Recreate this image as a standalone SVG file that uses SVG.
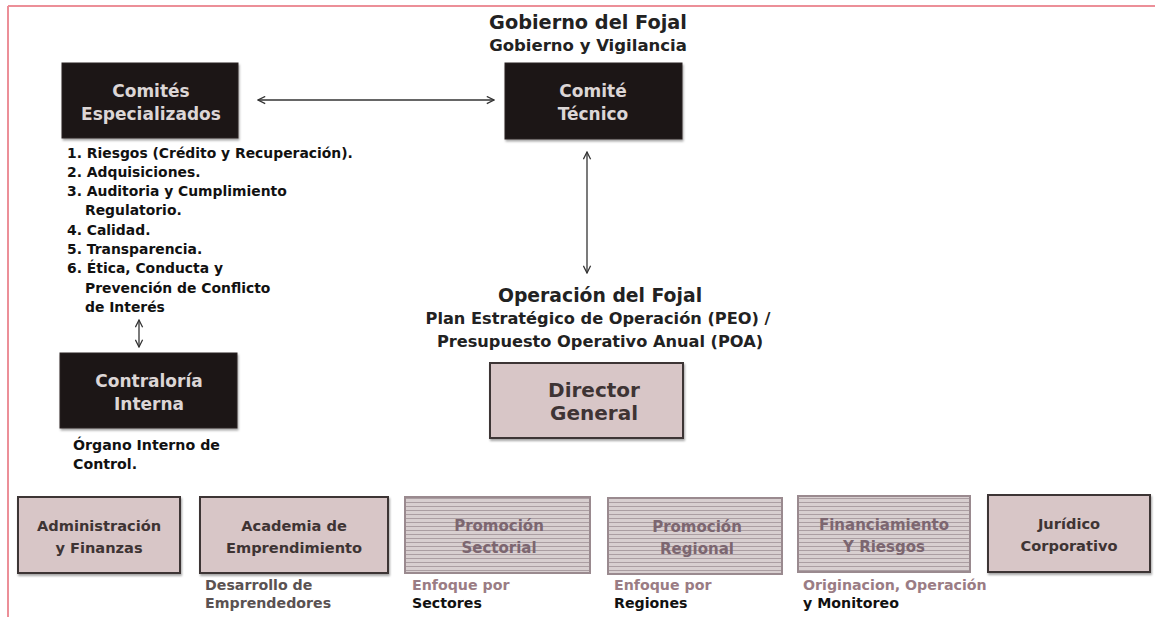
<svg xmlns="http://www.w3.org/2000/svg" width="1155" height="617" viewBox="0 0 1155 617">
<defs>
<style>
.t{font-family:"DejaVu Sans","Liberation Sans",sans-serif;font-weight:700}
.dark{fill:#1c1616;stroke:#2a2222;stroke-width:1}
.dt{fill:#dcd6d6;font-size:17px;text-anchor:middle}
.pink{fill:#d8c6c7;stroke:#3c3434;stroke-width:2}
.pt{fill:#3e3434;font-size:14.6px;text-anchor:middle}
.big{font-size:20px}
.tex{fill:url(#stripes);stroke:#9a8a8f;stroke-width:2}
.tt{fill:#7c6670;font-size:15px;text-anchor:middle}
.lst{fill:#111;font-size:13.9px}
.cap{font-size:14.2px}
.conn{stroke:#333;stroke-width:1.3;fill:none}
</style>
<pattern id="stripes" width="6" height="4" patternUnits="userSpaceOnUse">
<rect width="6" height="4" fill="#d8cfd0"/>
<rect y="2" width="6" height="1" fill="#ab9ea2"/>
</pattern>
<marker id="ah" viewBox="0 0 10 10" refX="9" refY="5" markerWidth="9" markerHeight="9" orient="auto-start-reverse" markerUnits="userSpaceOnUse">
<path d="M1,1 L9,5 L1,9" fill="none" stroke="#333" stroke-width="1.4"/>
</marker>
<filter id="sh" x="-5%" y="-5%" width="115%" height="120%">
<feDropShadow dx="1" dy="2" stdDeviation="1.2" flood-color="#000" flood-opacity="0.35"/>
</filter>
</defs>
<rect width="1155" height="617" fill="#fff"/>
<g id="frame">
<line x1="8" y1="6" x2="1155" y2="6" stroke="#ec8f98" stroke-width="2"/>
<line x1="8" y1="6" x2="8" y2="617" stroke="#ec8f98" stroke-width="2"/>
</g>

<g id="gobierno-title" class="t" fill="#222">
<text x="588" y="29" text-anchor="middle" font-size="19.3">Gobierno del Fojal</text>
<text x="588" y="51" text-anchor="middle" font-size="16.5">Gobierno y Vigilancia</text>
</g>

<g id="comites">
<rect class="dark" x="62" y="63" width="176" height="75" filter="url(#sh)"/>
<text class="t dt" x="151" y="97">Comités</text>
<text class="t dt" x="151" y="120">Especializados</text>
</g>

<g id="comites-list" class="t lst">
<text x="67" y="158">1. Riesgos (Crédito y Recuperación).</text>
<text x="67" y="177">2. Adquisiciones.</text>
<text x="67" y="196">3. Auditoria y Cumplimiento</text>
<text x="85" y="215">Regulatorio.</text>
<text x="67" y="235">4. Calidad.</text>
<text x="67" y="254">5. Transparencia.</text>
<text x="67" y="273">6. Ética, Conducta y</text>
<text x="85" y="293">Prevención de Conflicto</text>
<text x="85" y="312">de Interés</text>
</g>

<g id="comite-tecnico">
<rect class="dark" x="505" y="63" width="177" height="76" filter="url(#sh)"/>
<text class="t dt" x="593" y="97">Comité</text>
<text class="t dt" x="593" y="120">Técnico</text>
</g>

<g id="contraloria">
<rect class="dark" x="60" y="353" width="177" height="75" filter="url(#sh)"/>
<text class="t dt" x="149" y="387">Contraloría</text>
<text class="t dt" x="149" y="410">Interna</text>
<text class="t cap" x="73" y="450" fill="#111">Órgano Interno de</text>
<text class="t cap" x="73" y="469" fill="#111">Control.</text>
</g>

<g id="operacion-title" class="t" fill="#222">
<text x="600" y="302" text-anchor="middle" font-size="18.8">Operación del Fojal</text>
<text x="598" y="324" text-anchor="middle" font-size="16.2">Plan Estratégico de Operación (PEO) /</text>
<text x="600" y="347" text-anchor="middle" font-size="16.2">Presupuesto Operativo Anual (POA)</text>
</g>

<g id="director">
<rect class="pink" x="490" y="363" width="193" height="75" filter="url(#sh)"/>
<text class="t pt big" x="594" y="397">Director</text>
<text class="t pt big" x="594" y="420">General</text>
</g>

<g id="admin">
<rect class="pink" x="18" y="497" width="162" height="76" filter="url(#sh)"/>
<text class="t pt" x="99" y="531">Administración</text>
<text class="t pt" x="99" y="553">y Finanzas</text>
</g>

<g id="academia">
<rect class="pink" x="200" y="497" width="188" height="76" filter="url(#sh)"/>
<text class="t pt" x="294" y="531">Academia de</text>
<text class="t pt" x="294" y="553">Emprendimiento</text>
<text class="t cap" x="205" y="590" fill="#5a5252">Desarrollo de</text>
<text class="t cap" x="205" y="608" fill="#5a5252">Emprendedores</text>
</g>

<g id="promocion-sectorial">
<rect class="tex" x="405" y="497" width="185" height="76"/>
<text class="t tt" x="499" y="531">Promoción</text>
<text class="t tt" x="499" y="553">Sectorial</text>
<text class="t cap" x="412" y="590" fill="#9a7c84">Enfoque por</text>
<text class="t cap" x="412" y="608" fill="#111">Sectores</text>
</g>

<g id="promocion-regional">
<rect class="tex" x="608" y="498" width="174" height="76"/>
<text class="t tt" x="697" y="532">Promoción</text>
<text class="t tt" x="697" y="554">Regional</text>
<text class="t cap" x="614" y="590" fill="#9a7c84">Enfoque por</text>
<text class="t cap" x="614" y="608" fill="#111">Regiones</text>
</g>

<g id="financiamiento">
<rect class="tex" x="798" y="496" width="172" height="76"/>
<text class="t tt" x="884" y="530">Financiamiento</text>
<text class="t tt" x="884" y="552">Y Riesgos</text>
<text class="t cap" x="803" y="590" fill="#9a7c84">Originacion, Operación</text>
<text class="t cap" x="803" y="608" fill="#111">y Monitoreo</text>
</g>

<g id="juridico">
<rect class="pink" x="988" y="495" width="162" height="77" filter="url(#sh)"/>
<text class="t pt" x="1069" y="529">Jurídico</text>
<text class="t pt" x="1069" y="551">Corporativo</text>
</g>

<g id="connectors">
<line class="conn" x1="258" y1="100" x2="494" y2="100" marker-start="url(#ah)" marker-end="url(#ah)"/>
<line class="conn" x1="587" y1="152" x2="587" y2="273" marker-start="url(#ah)" marker-end="url(#ah)"/>
<line class="conn" x1="139" y1="320" x2="139" y2="347" stroke-width="1.8" marker-start="url(#ah)" marker-end="url(#ah)"/>
</g>
</svg>
